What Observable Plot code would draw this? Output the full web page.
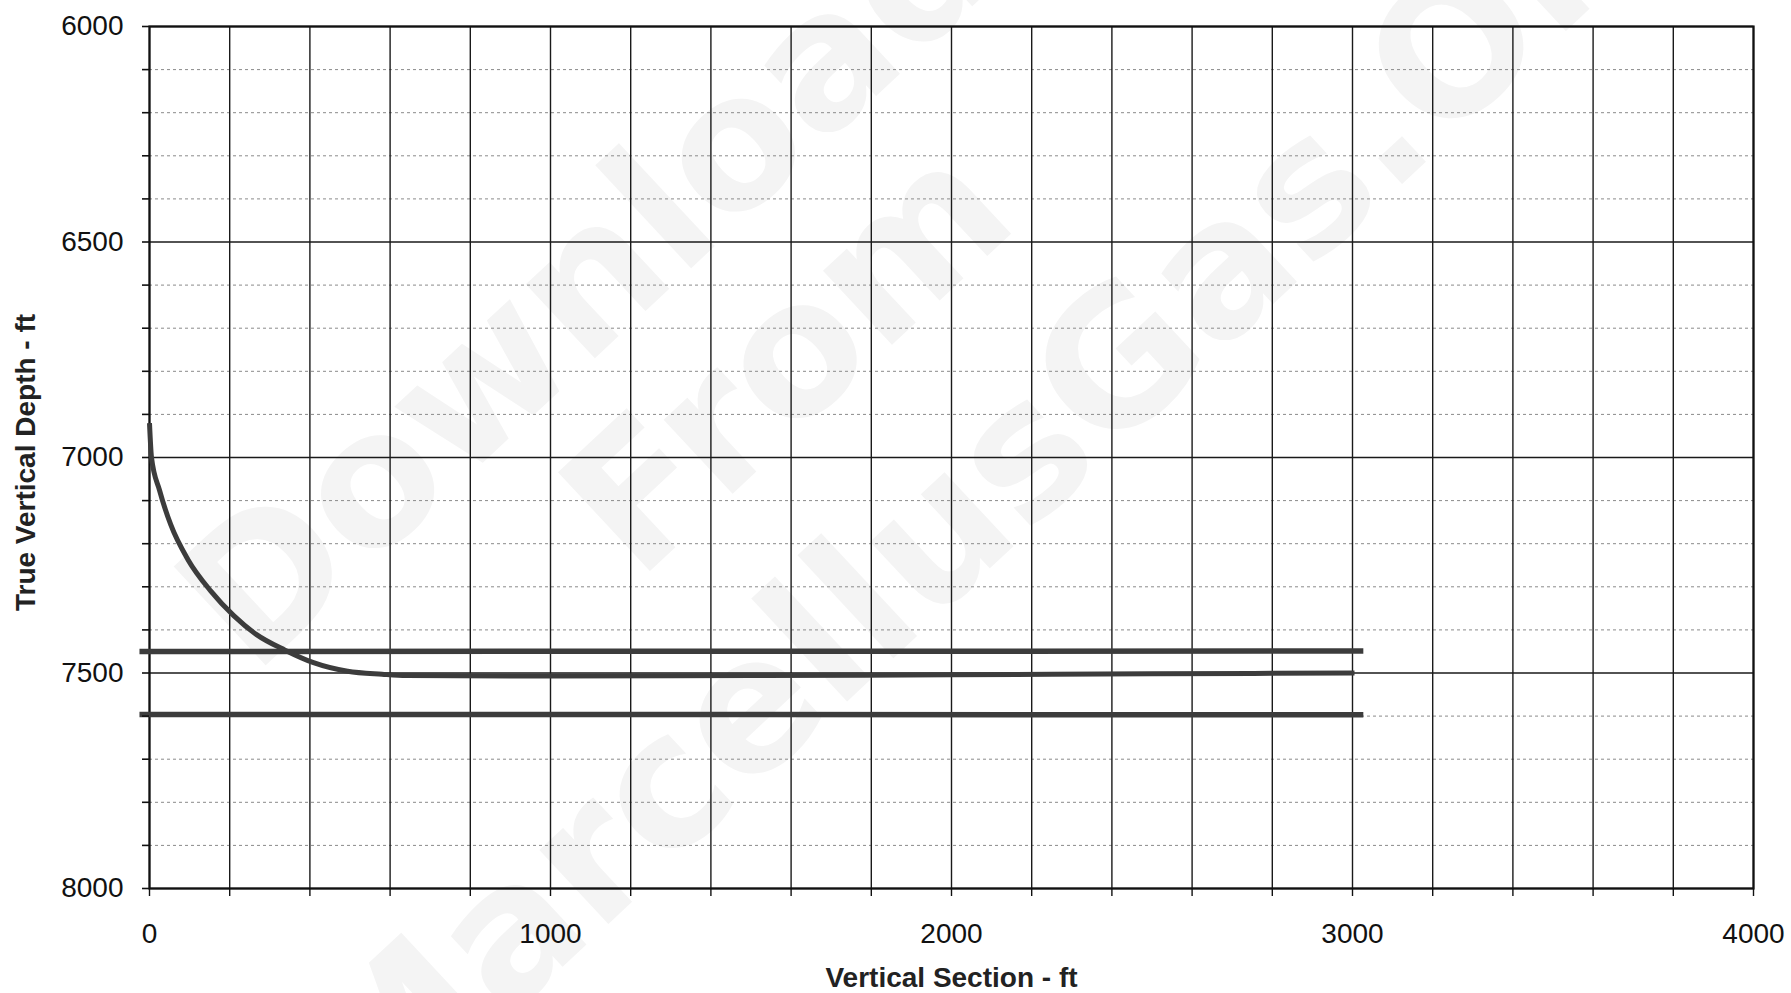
<!DOCTYPE html>
<html>
<head>
<meta charset="utf-8">
<script src="https://cdn.jsdelivr.net/npm/d3@7"></script>
<script src="https://cdn.jsdelivr.net/npm/@observablehq/plot@0.6"></script>
<style>
  html, body { margin: 0; padding: 0; background: #ffffff; }
  #wrap { position: relative; width: 1791px; height: 993px; overflow: hidden; background: #ffffff; }
  #wm { position: absolute; left: 0; top: 0; z-index: 0; pointer-events: none; }
  #chart { position: absolute; left: 0; top: 0; z-index: 1; }
</style>
</head>
<body>
<div id="wrap">
  <svg id="wm" width="1791" height="993"></svg>
  <div id="chart"></div>
</div>
<script>
// ---- Axis ticks ----
const xLabelTicks = [0, 1000, 2000, 3000, 4000];
const xGridTicks = [0, 200, 400, 600, 800, 1000, 1200, 1400, 1600, 1800, 2000,
                    2200, 2400, 2600, 2800, 3000, 3200, 3400, 3600, 3800, 4000];
const yLabelTicks = [6000, 6500, 7000, 7500, 8000];
const yMinorTicks = [6100, 6200, 6300, 6400, 6600, 6700, 6800, 6900,
                     7100, 7200, 7300, 7400, 7600, 7700, 7800, 7900];
const yAllTicks = [6000, 6100, 6200, 6300, 6400, 6500, 6600, 6700, 6800, 6900, 7000,
                   7100, 7200, 7300, 7400, 7500, 7600, 7700, 7800, 7900, 8000];

// ---- Well path (vertical section vs true vertical depth) ----
const wellVS  = [0, 5, 25, 53, 96, 153, 210, 267, 338, 409, 494, 580, 640, 1000, 1500, 2000, 2500, 3005];
const wellTVD = [6920, 7000, 7076, 7156, 7237, 7310, 7367, 7411, 7447, 7476, 7496, 7503, 7506, 7507, 7506, 7504, 7502, 7500];

// ---- Formation top / base lines ----
const topVS  = [-25, 3027];
const topTVD = [7450, 7449];
const baseVS  = [-25, 3027];
const baseTVD = [7596, 7597];

const wellData = wellVS.map((x, i) => ({x, y: wellTVD[i]}));
const topData = topVS.map((x, i) => ({x, y: topTVD[i]}));
const baseData = baseVS.map((x, i) => ({x, y: baseTVD[i]}));

const xTitle = "Vertical Section - ft";
const yTitle = "True Vertical Depth - ft";

const font = "'Liberation Sans', Arial, Helvetica, sans-serif";

const chart = Plot.plot({
  width: 1791,
  height: 993,
  marginLeft: 149,
  marginRight: 38,
  marginTop: 26,
  marginBottom: 105,
  style: { fontFamily: font, background: "transparent", color: "#111", overflow: "visible" },
  x: { domain: [0, 4000] },
  y: { domain: [6000, 8000], reverse: true },
  marks: [
    Plot.ruleY(yMinorTicks, { stroke: "#8a8a8a", strokeWidth: 1, strokeDasharray: "3,3" }),
    Plot.ruleY(yLabelTicks, { stroke: "#1a1a1a", strokeWidth: 1.6 }),
    Plot.ruleX(xGridTicks, { stroke: "#1a1a1a", strokeWidth: 1.4 }),
    Plot.frame({ stroke: "#111", strokeWidth: 2.2 }),
    Plot.line(topData, { x: "x", y: "y", stroke: "#3c3c3c", strokeWidth: 5.5, strokeLinecap: "butt" }),
    Plot.line(baseData, { x: "x", y: "y", stroke: "#3c3c3c", strokeWidth: 5.5, strokeLinecap: "butt" }),
    Plot.line(wellData, { x: "x", y: "y", stroke: "#3c3c3c", strokeWidth: 5, curve: "monotone-x", strokeLinecap: "butt" }),
    Plot.axisX({
      ticks: xGridTicks, tickSize: 8, tickPadding: 27, fontSize: 28, label: null,
      tickFormat: d => xLabelTicks.includes(d) ? String(d) : "",
      stroke: "#111", strokeWidth: 1.4
    }),
    Plot.axisY({
      ticks: yAllTicks, tickSize: 7, tickPadding: 19, fontSize: 28, label: null,
      tickFormat: d => yLabelTicks.includes(d) ? String(d) : "",
      stroke: "#111", strokeWidth: 1.6
    }),
    Plot.text([xTitle], { text: d => d, frameAnchor: "bottom", lineAnchor: "middle", textAnchor: "middle",
      dy: 90, fontSize: 28, fontWeight: "bold", fill: "#222" }),
    Plot.text([yTitle], { text: d => d, frameAnchor: "left", lineAnchor: "middle", textAnchor: "middle",
      dx: -123, dy: 5, rotate: -90, fontSize: 28, fontWeight: "bold", fill: "#222" })
  ]
});
document.getElementById("chart").appendChild(chart);

// ---- faint scanned-document watermark (decoration behind the chart) ----
const wmLines = [
  { t: "Downloaded", cx: 690, cy: 200 },
  { t: "From", cx: 795, cy: 366 },
  { t: "MarcellusGas.Org", cx: 1010, cy: 480 }
];
const wm = d3.select("#wm");
wm.selectAll("text").data(wmLines).join("text")
  .attr("transform", d => `translate(${d.cx},${d.cy}) rotate(-43)`)
  .attr("text-anchor", "middle")
  .attr("dominant-baseline", "middle")
  .attr("font-family", "'DejaVu Sans', sans-serif")
  .attr("font-weight", "bold")
  .attr("font-size", 185)
  .attr("fill", "#f4f4f4")
  .text(d => d.t);
</script>
</body>
</html>
